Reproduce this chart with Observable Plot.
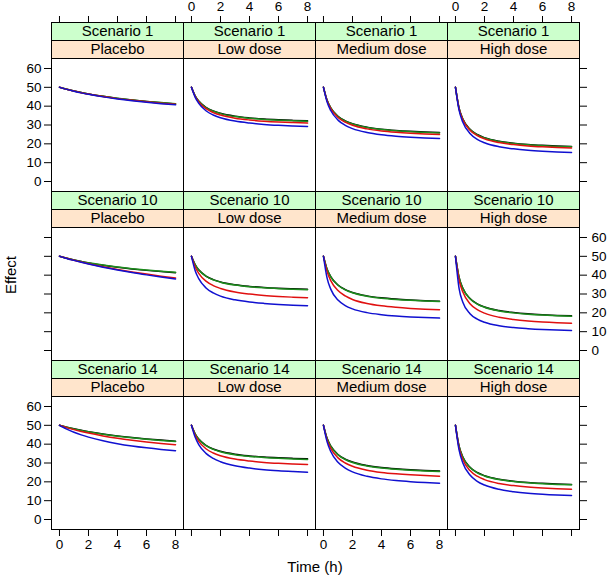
<!DOCTYPE html>
<html>
<head>
<meta charset="utf-8">
<script src="https://cdn.jsdelivr.net/npm/d3@7"></script>
<script src="https://cdn.jsdelivr.net/npm/@observablehq/plot@0.6"></script>
<style>
  body { margin: 0; background: #fff; }
  #chart { position: relative; width: 607px; height: 578px; font-family: "Liberation Sans", Arial, Helvetica, sans-serif; color: #000; }
  .strip { position: absolute; box-sizing: border-box; border: 1px solid #000; text-align: center; font-size: 15px; line-height: 16px; white-space: nowrap; overflow: hidden; }
  .lab { position: absolute; font-size: 15px; white-space: nowrap; }
  svg { position: absolute; }
</style>
</head>
<body>
<div id="chart"></div>
<script>
// ---- data ----
const times = [0, 0.25, 0.5, 1, 1.5, 2, 3, 4, 5, 6, 7, 8];
const scenarios = ["Scenario 1", "Scenario 10", "Scenario 14"];
const doses = ["Placebo", "Low dose", "Medium dose", "High dose"];
const seriesKeys = ["black", "green", "red", "blue"];
const seriesColors = ["#000000", "#1c8c1c", "#e01010", "#1010d0"];
const xTicks = [0, 2, 4, 6, 8];
const yTicks = [0, 10, 20, 30, 40, 50, 60];

// each panel: [black, green, red, blue] effect values at `times`
const sc1Placebo = [
  [50, 49.46, 48.96, 48.05, 47.22, 46.48, 45.20, 44.13, 43.23, 42.46, 41.79, 41.2],
  [50, 49.47, 48.97, 48.07, 47.25, 46.52, 45.26, 44.20, 43.31, 42.54, 41.88, 41.3],
  [50, 49.45, 48.94, 48.00, 47.16, 46.40, 45.10, 44.00, 43.08, 42.29, 41.60, 41.0],
  [50, 49.43, 48.90, 47.94, 47.06, 46.28, 44.93, 43.80, 42.85, 42.03, 41.32, 40.7]
];
const sc1Low = [
  [50, 45.53, 42.70, 39.36, 37.43, 36.19, 34.66, 33.77, 33.16, 32.75, 32.45, 32.2],
  [50, 45.48, 42.62, 39.24, 37.29, 36.03, 34.48, 33.58, 32.97, 32.56, 32.25, 32.0],
  [50, 45.23, 42.21, 38.64, 36.59, 35.26, 33.62, 32.67, 32.03, 31.59, 31.27, 31.0],
  [50, 44.78, 41.47, 37.56, 35.32, 33.86, 32.07, 31.03, 30.32, 29.84, 29.49, 29.2]
];
const sc1Medium = [
  [50, 43.14, 39.13, 34.64, 32.22, 30.66, 28.83, 27.78, 27.10, 26.62, 26.26, 26.0],
  [50, 43.08, 39.04, 34.51, 32.07, 30.49, 28.66, 27.59, 26.91, 26.43, 26.07, 25.8],
  [50, 42.85, 38.68, 34.00, 31.48, 29.85, 27.95, 26.85, 26.15, 25.65, 25.28, 25.0],
  [50, 42.22, 37.68, 32.59, 29.84, 28.08, 26.01, 24.81, 24.05, 23.51, 23.10, 22.8]
];
const sc1High = [
  [50, 38.88, 33.33, 27.77, 24.97, 23.31, 21.39, 20.36, 19.67, 19.20, 18.85, 18.6],
  [50, 38.81, 33.22, 27.63, 24.81, 23.14, 21.21, 20.17, 19.47, 19.00, 18.65, 18.4],
  [50, 38.60, 32.90, 27.20, 24.34, 22.63, 20.67, 19.60, 18.89, 18.41, 18.06, 17.8],
  [50, 37.75, 31.63, 25.50, 22.42, 20.59, 18.48, 17.34, 16.58, 16.06, 15.68, 15.4]
];
const sc10Placebo = [
  [50, 49.47, 48.97, 48.07, 47.25, 46.52, 45.26, 44.20, 43.31, 42.54, 41.88, 41.3],
  [50, 49.48, 49.00, 48.11, 47.31, 46.60, 45.37, 44.33, 43.46, 42.72, 42.07, 41.5],
  [50, 49.46, 48.93, 47.93, 47.00, 46.11, 44.49, 43.04, 41.73, 40.56, 39.48, 38.5],
  [50, 49.44, 48.88, 47.84, 46.87, 45.94, 44.25, 42.74, 41.37, 40.15, 39.02, 38.0]
];
const sc10Low = [
  [50, 45.61, 42.83, 39.54, 37.65, 36.42, 34.92, 34.04, 33.45, 33.04, 32.75, 32.5],
  [50, 45.56, 42.74, 39.42, 37.50, 36.26, 34.74, 33.86, 33.26, 32.85, 32.55, 32.3],
  [50, 44.48, 40.98, 36.84, 34.47, 32.93, 31.04, 29.94, 29.19, 28.68, 28.31, 28.0],
  [50, 42.51, 38.13, 33.23, 30.59, 28.88, 26.89, 25.74, 25.01, 24.48, 24.09, 23.8]
];
const sc10Medium = [
  [50, 43.19, 39.22, 34.77, 32.36, 30.82, 29.01, 27.96, 27.29, 26.82, 26.46, 26.2],
  [50, 43.14, 39.13, 34.64, 32.22, 30.66, 28.83, 27.78, 27.10, 26.62, 26.26, 26.0],
  [50, 41.88, 37.13, 31.82, 28.96, 27.11, 24.95, 23.70, 22.91, 22.34, 21.91, 21.6],
  [50, 38.39, 32.58, 26.78, 23.86, 22.12, 20.12, 19.04, 18.32, 17.82, 17.46, 17.2]
];
const sc10High = [
  [50, 38.81, 33.22, 27.63, 24.81, 23.14, 21.21, 20.17, 19.47, 19.00, 18.65, 18.4],
  [50, 38.74, 33.11, 27.49, 24.66, 22.97, 21.03, 19.98, 19.28, 18.80, 18.45, 18.2],
  [50, 37.43, 31.15, 24.87, 21.71, 19.83, 17.66, 16.49, 15.71, 15.17, 14.78, 14.5],
  [50, 32.86, 25.81, 19.54, 16.67, 15.01, 13.16, 12.18, 11.59, 11.15, 10.84, 10.6]
];
const sc14Placebo = [
  [50, 49.49, 49.01, 48.14, 47.35, 46.64, 45.42, 44.40, 43.54, 42.80, 42.16, 41.6],
  [50, 49.48, 48.99, 48.09, 47.28, 46.56, 45.31, 44.26, 43.39, 42.63, 41.98, 41.4],
  [50, 49.37, 48.78, 47.71, 46.75, 45.88, 44.39, 43.13, 42.08, 41.17, 40.39, 39.7],
  [50, 48.96, 48.00, 46.34, 44.94, 43.74, 41.78, 40.25, 39.03, 38.04, 37.20, 36.5]
];
const sc14Low = [
  [50, 45.53, 42.70, 39.36, 37.43, 36.19, 34.66, 33.77, 33.16, 32.75, 32.45, 32.2],
  [50, 45.46, 42.58, 39.18, 37.22, 35.95, 34.40, 33.49, 32.88, 32.46, 32.15, 31.9],
  [50, 44.78, 41.47, 37.56, 35.32, 33.86, 32.07, 31.03, 30.32, 29.84, 29.49, 29.2],
  [50, 43.75, 39.79, 35.11, 32.42, 30.68, 28.54, 27.29, 26.44, 25.87, 25.45, 25.1]
];
const sc14Medium = [
  [50, 43.08, 39.04, 34.51, 32.07, 30.49, 28.66, 27.59, 26.91, 26.43, 26.07, 25.8],
  [50, 42.99, 38.90, 34.32, 31.85, 30.25, 28.39, 27.31, 26.63, 26.14, 25.77, 25.5],
  [50, 42.28, 37.77, 32.72, 29.99, 28.24, 26.19, 25.00, 24.24, 23.70, 23.30, 23.0],
  [50, 41.22, 36.09, 30.35, 27.25, 25.26, 22.92, 21.57, 20.71, 20.10, 19.64, 19.3]
];
const sc14High = [
  [50, 38.88, 33.33, 27.77, 24.97, 23.31, 21.39, 20.36, 19.67, 19.20, 18.85, 18.6],
  [50, 38.81, 33.22, 27.63, 24.81, 23.14, 21.21, 20.17, 19.47, 19.00, 18.65, 18.4],
  [50, 38.00, 32.00, 26.00, 22.98, 21.19, 19.12, 18.00, 17.25, 16.74, 16.37, 16.1],
  [50, 36.80, 30.19, 23.59, 20.27, 18.30, 16.02, 14.79, 13.97, 13.41, 13.00, 12.7]
];
const panels = [
  [sc1Placebo, sc1Low, sc1Medium, sc1High],
  [sc10Placebo, sc10Low, sc10Medium, sc10High],
  [sc14Placebo, sc14Low, sc14Medium, sc14High]
];

// ---- layout ----
const colLeft = [51, 183, 315, 447];
const rowTop = [22, 191, 360];
const panelW = 132, panelH = 133, stripH = 18;
const xDomain = [-0.55, 8.55];
const yDomain = [-5.3, 65.3];
const fontFamily = '"Liberation Sans", Arial, Helvetica, sans-serif';
const tickFont = "13.5px";

const chart = document.getElementById("chart");

function place(el, left, top) {
  el.style.left = left + "px";
  el.style.top = top + "px";
  chart.appendChild(el);
}

const show = d => String(d);
const hide = () => "";

for (let r = 0; r < 3; r++) {
  for (let c = 0; c < 4; c++) {
    const data = panels[r][c];
    const marks = [Plot.frame({stroke: "#000", strokeWidth: 1})];
    seriesKeys.forEach((k, j) => {
      const rows = times.map((t, i) => ({t, v: data[j][i]}));
      marks.push(Plot.line(rows, {x: "t", y: "v", stroke: seriesColors[j], strokeWidth: 1.5, curve: "monotone-x"}));
    });
    if (r === 2) {
      marks.push(Plot.axisX({anchor: "bottom", ticks: xTicks, tickSize: 7, tickPadding: 3,
        tickFormat: c % 2 === 0 ? show : hide, label: null, stroke: "#000", fill: "#000"}));
    }
    if (c === 0) {
      marks.push(Plot.axisY({anchor: "left", ticks: yTicks, tickSize: 7, tickPadding: 3,
        tickFormat: r !== 1 ? show : hide, label: null, stroke: "#000", fill: "#000"}));
    }
    if (c === 3) {
      marks.push(Plot.axisY({anchor: "right", ticks: yTicks, tickSize: 7, tickPadding: 5,
        tickFormat: r === 1 ? show : hide, label: null, stroke: "#000", fill: "#000"}));
    }
    const svg = Plot.plot({
      width: panelW, height: panelH,
      marginTop: 0, marginBottom: 0, marginLeft: 0, marginRight: 0,
      x: {domain: xDomain, axis: null},
      y: {domain: yDomain, axis: null},
      style: {overflow: "visible", background: "transparent", fontFamily, fontSize: tickFont, color: "#000", maxWidth: "none"},
      marks
    });
    place(svg, colLeft[c], rowTop[r] + 2 * stripH);

    // strips
    const s1 = document.createElement("div");
    s1.className = "strip";
    s1.style.width = (panelW + 1) + "px";
    s1.style.height = (stripH + 1) + "px";
    s1.style.background = "#ccffcc";
    s1.textContent = scenarios[r];
    place(s1, colLeft[c], rowTop[r]);
    const s2 = document.createElement("div");
    s2.className = "strip";
    s2.style.width = (panelW + 1) + "px";
    s2.style.height = (stripH + 1) + "px";
    s2.style.background = "#ffe5cc";
    s2.textContent = doses[c];
    place(s2, colLeft[c], rowTop[r] + stripH);
  }
}

// top x axes (above the first row of strips)
for (let c = 0; c < 4; c++) {
  const svg = Plot.plot({
    width: panelW, height: 10,
    marginTop: 0, marginBottom: 0, marginLeft: 0, marginRight: 0,
    x: {domain: xDomain, axis: null},
    style: {overflow: "visible", background: "transparent", fontFamily, fontSize: tickFont, color: "#000", maxWidth: "none"},
    marks: [Plot.axisX({anchor: "top", ticks: xTicks, tickSize: 7, tickPadding: 5,
      tickFormat: c % 2 === 1 ? show : hide, label: null, stroke: "#000", fill: "#000"})]
  });
  place(svg, colLeft[c], rowTop[0]);
}

// axis titles
const yl = document.createElement("div");
yl.className = "lab";
yl.textContent = "Effect";
yl.style.transform = "translate(-50%, -50%) rotate(-90deg)";
place(yl, 10, 275);
const xl = document.createElement("div");
xl.className = "lab";
xl.textContent = "Time (h)";
xl.style.transform = "translate(-50%, -50%)";
place(xl, 315, 566);
</script>
</body>
</html>
